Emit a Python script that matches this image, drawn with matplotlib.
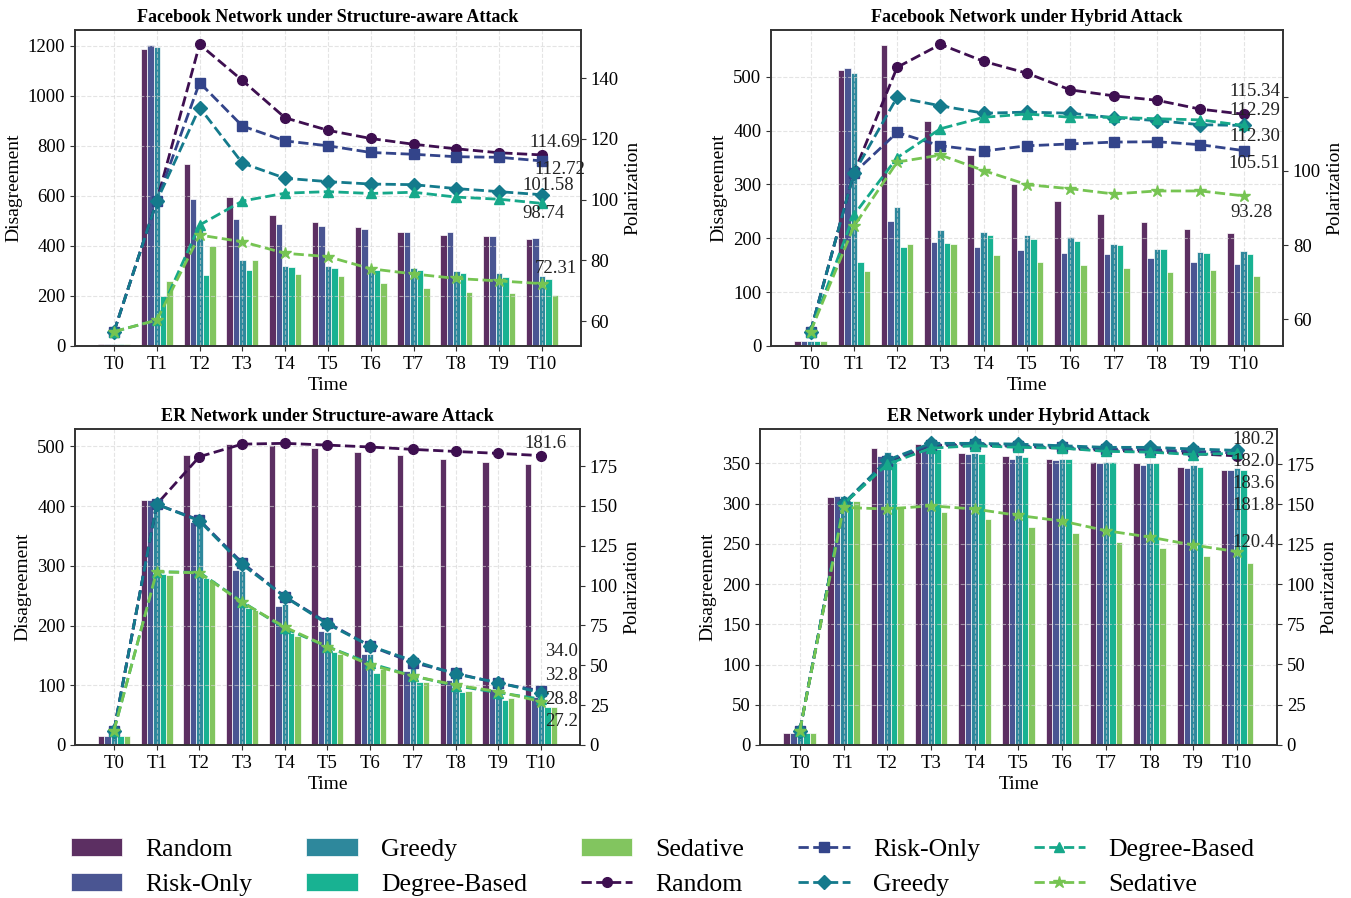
import matplotlib
matplotlib.use('Agg')
import matplotlib.pyplot as plt
import numpy as np

plt.rcParams['font.family'] = ['Liberation Serif', 'DejaVu Serif']

time_labels = ['T0', 'T1', 'T2', 'T3', 'T4', 'T5', 'T6', 'T7', 'T8', 'T9', 'T10']
methods = ['Random', 'Risk-Only', 'Greedy', 'Degree-Based', 'Sedative']

bar_colors = ['#5c2f62', '#4a5592', '#2e889c', '#18b292', '#82c55f']
line_colors = ['#3e0f50', '#33448a', '#147a8c', '#16a88a', '#76c452']
markers = ['o', 's', 'D', '^', '*']

# order of rows: Random, Risk-Only, Greedy, Degree-Based, Sedative
fb_struct_dis = [
    [8, 1187, 726, 595, 522, 496, 476, 456, 444, 439, 428],
    [8, 1203, 586, 506, 489, 478, 466, 457, 457, 440, 431],
    [8, 1197, 470, 345, 319, 320, 314, 311, 299, 292, 280],
    [8, 198, 283, 304, 314, 311, 303, 302, 292, 275, 268],
    [8, 259, 399, 345, 288, 278, 251, 231, 215, 211, 203],
]
fb_struct_pol = [
    [56.5, 99.5, 151.1, 139.2, 126.9, 122.8, 120.1, 118.2, 116.7, 115.4, 114.69],
    [56.5, 99.5, 138.5, 124.2, 119.3, 117.7, 115.5, 114.9, 114.1, 113.9, 112.72],
    [56.5, 99.5, 130.3, 112.0, 107.0, 105.9, 105.1, 104.9, 103.6, 102.6, 101.58],
    [56.5, 60.3, 91.6, 99.5, 102.1, 102.6, 102.0, 102.4, 100.8, 100.1, 98.74],
    [56.5, 60.3, 88.3, 86.1, 82.3, 81.2, 77.2, 75.5, 74.0, 73.2, 72.31],
]

fb_hybrid_dis = [
    [9, 513, 559, 417, 354, 301, 270, 245, 230, 217, 209],
    [9, 516, 232, 193, 183, 178, 172, 171, 163, 156, 153],
    [9, 507, 258, 215, 211, 206, 202, 190, 181, 174, 176],
    [9, 156, 184, 192, 206, 199, 195, 187, 180, 173, 171],
    [9, 140, 189, 190, 169, 156, 150, 145, 138, 141, 130],
]
fb_hybrid_pol = [
    [56.6, 99.4, 128.0, 134.2, 129.6, 126.4, 121.9, 120.3, 119.1, 116.7, 115.34],
    [56.6, 99.4, 110.4, 106.8, 105.4, 106.8, 107.3, 107.8, 107.9, 107.1, 105.51],
    [56.6, 99.4, 119.9, 117.6, 115.6, 115.9, 115.6, 114.4, 113.6, 112.5, 112.29],
    [56.6, 88.1, 103.6, 111.4, 114.5, 115.4, 114.5, 114.5, 114.1, 113.8, 112.30],
    [56.6, 85.0, 102.4, 104.3, 100.1, 96.3, 95.2, 93.8, 94.6, 94.6, 93.28],
]

er_struct_dis = [
    [15, 410, 486, 504, 503, 497, 491, 485, 479, 474, 471],
    [15, 410, 373, 293, 233, 191, 153, 124, 109, 93, 81],
    [15, 405, 385, 291, 236, 190, 153, 134, 115, 98, 87],
    [15, 287, 280, 229, 187, 155, 121, 106, 88, 75, 64],
    [15, 285, 277, 226, 183, 153, 127, 106, 91, 78, 64],
]
er_struct_pol = [
    [9, 151, 180.9, 188.8, 189.3, 188.2, 187.0, 185.5, 184.2, 183.0, 181.6],
    [9, 151, 141.2, 114.4, 93.1, 76.7, 62.1, 51.7, 45.0, 38.7, 34.0],
    [9, 151, 140.7, 113.3, 93.0, 75.9, 62.1, 52.9, 44.5, 39.1, 32.8],
    [9, 108.7, 108.3, 89.9, 73.2, 61.7, 51.2, 43.3, 37.2, 32.8, 28.8],
    [9, 108.7, 108.0, 89.5, 74.0, 61.7, 50.2, 43.3, 37.6, 33.5, 27.2],
]

er_hybrid_dis = [
    [15, 308, 369, 374, 363, 359, 356, 352, 350, 345, 342],
    [15, 310, 359, 373, 361, 356, 354, 351, 348, 344, 342],
    [15, 309, 364, 374, 363, 360, 355, 352, 351, 348, 344],
    [15, 303, 359, 368, 362, 358, 355, 352, 350, 345, 342],
    [15, 303, 297, 290, 281, 271, 264, 252, 245, 235, 226],
]
er_hybrid_pol = [
    [8.7, 150, 176, 186.5, 187, 186, 185, 183.5, 183, 181.5, 180.2],
    [8.7, 150, 177, 187, 187.5, 186.5, 185.5, 184.5, 184, 183, 182.0],
    [8.7, 150.5, 177.5, 188, 188, 187.5, 186.5, 185.5, 185.5, 184.5, 183.6],
    [8.7, 150, 175, 185, 186.5, 185.5, 185, 183, 182.5, 181, 181.8],
    [8.7, 148, 147, 149, 147, 143, 139.5, 133.5, 129.5, 124.5, 120.4],
]

# label offsets (points) for the final values
fb_struct_off = [(9, 9), (13, -6), (4.5, 6.5), (1.5, -7), (10, 11)]
fb_hybrid_off = [(8, 16), (8, -9.5), (8, 10.5), (8, -8), (6, -12)]
er_struct_off = [(3, 9), (15, 28), (15, 12.5), (15, -0.5), (15, -14.5)]
er_hybrid_off = [(12, 11.5), (12, -6), (12, -23.5), (12, -37.5), (12, 6.5)]


def draw_panel(rect, title, dis, pol, fmt, offsets, right_ticks=None):
    ax = fig.add_axes(rect)
    x = np.arange(len(time_labels))
    w = 0.15
    for i, m in enumerate(methods):
        ax.bar(x + (i - 2) * w, dis[i], w, color=bar_colors[i],
               edgecolor='white', linewidth=0.5, label=m)
    ax.set_xticks(x)
    ax.set_xticklabels(time_labels)
    ax.set_xlabel('Time', fontsize=14, labelpad=3)
    ax.set_ylabel('Disagreement', fontsize=14)
    ax.set_title(title, fontsize=13, fontweight='bold')
    ax.grid(True, linestyle='--', color='lightgray', alpha=0.6, linewidth=0.8)

    ax2 = ax.twinx()
    for i, m in enumerate(methods):
        ax2.plot(x, pol[i], linestyle='--', marker=markers[i], color=line_colors[i],
                 linewidth=2, markersize=9 if markers[i] == '*' else 7, label=m)
        ax2.annotate(fmt.format(pol[i][-1]), (x[-1], pol[i][-1]),
                     xytext=offsets[i], textcoords='offset points',
                     ha='center', va='center', fontsize=13.5, color='#222222')
    ax2.set_ylabel('Polarization', fontsize=14)
    if right_ticks is not None:
        ax2.set_yticks(right_ticks[0])
        ax2.set_yticklabels(right_ticks[1])

    for a in (ax, ax2):
        a.tick_params(labelsize=13.5, color='#333333')
        for s in a.spines.values():
            s.set_color('#333333')
            s.set_linewidth(1.2)
    return ax, ax2


fig = plt.figure(figsize=(13.51, 8.98), dpi=100)

draw_panel([0.0555, 0.6147, 0.3745, 0.3519], 'Facebook Network under Structure-aware Attack',
           fb_struct_dis, fb_struct_pol, '{:.2f}', fb_struct_off)
draw_panel([0.5707, 0.6147, 0.3790, 0.3519], 'Facebook Network under Hybrid Attack',
           fb_hybrid_dis, fb_hybrid_pol, '{:.2f}', fb_hybrid_off,
           right_ticks=([60, 80, 100, 120], ['60', '80', '100', '']))
draw_panel([0.0555, 0.1704, 0.3738, 0.3519], 'ER Network under Structure-aware Attack',
           er_struct_dis, er_struct_pol, '{:.1f}', er_struct_off)
ax_bar, ax_line = draw_panel([0.5625, 0.1704, 0.3827, 0.3519], 'ER Network under Hybrid Attack',
                             er_hybrid_dis, er_hybrid_pol, '{:.1f}', er_hybrid_off)

bar_h, bar_l = ax_bar.get_legend_handles_labels()
line_h, line_l = ax_line.get_legend_handles_labels()
fig.legend(bar_h + line_h, bar_l + line_l, loc='lower center', ncol=5,
           fontsize=18.5, frameon=False, bbox_to_anchor=(0.4905, -0.024),
           columnspacing=2.1, handletextpad=0.9)

plt.savefig('out.png', dpi=100)
